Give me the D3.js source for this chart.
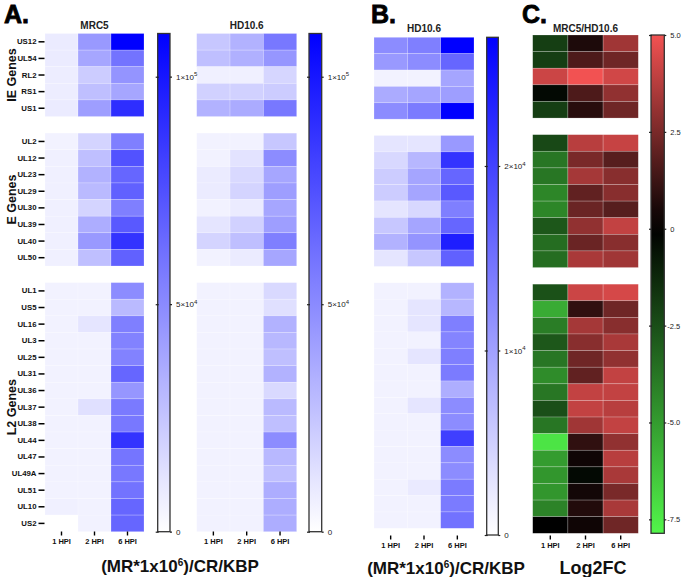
<!DOCTYPE html>
<html>
<head>
<meta charset="utf-8">
<script src="https://cdn.jsdelivr.net/npm/d3@7"></script>
<style>
  body { margin: 0; background: #fff; }
  svg { font-family: "Liberation Sans", Arial, sans-serif; }
  .bold { font-weight: bold; }
</style>
</head>
<body>
<svg id="fig" width="684" height="577"></svg>
<script>
// genes per group
const ieGenes = ["US12", "UL54", "RL2", "RS1", "US1"];
const eGenes = ["UL2", "UL12", "UL23", "UL29", "UL30", "UL39", "UL40", "UL50"];
const l2Genes = ["UL1", "US5", "UL16", "UL3", "UL25", "UL31", "UL36", "UL37", "UL38", "UL44", "UL47", "UL49A", "UL51", "UL10", "US2"];
const hpi = ["1 HPI", "2 HPI", "6 HPI"];

// A. MRC5, (MR*1e6)/CR/KBP, columns 1/2/6 HPI
const mrc5Values = [
  [8800, 43800, 109500], [8800, 38300, 60200], [7700, 21900, 46000], [7700, 27400, 38300], [8800, 41600, 89800],
  [5500, 18600, 54800], [6600, 27400, 74500], [6600, 32900, 65700], [6600, 29600, 67900], [6600, 18600, 54800],
  [6600, 35000, 71200], [6600, 43800, 87600], [6600, 27400, 67900],
  [5500, 5500, 49300], [5500, 5500, 29600], [5500, 11000, 54800], [5500, 5500, 53700], [5500, 5500, 53700],
  [5500, 5500, 65700], [5500, 5500, 45000], [5500, 13100, 56900], [5500, 5500, 57900], [5500, 5500, 87600],
  [5500, 5500, 59100], [5500, 5500, 57900], [5500, 5500, 60200], [6600, 5500, 65700], [0, 5500, 65700]
];
// A. HD10.6
const hd106ValuesA = [
  [24100, 32900, 58000], [27400, 33900, 44900], [6600, 6600, 17500], [19700, 19700, 21900], [32900, 36100, 58000],
  [5500, 5500, 24100], [5500, 12000, 49300], [8800, 16400, 38300], [8800, 18600, 41600], [5500, 8800, 38300],
  [11000, 19700, 41600], [18600, 27400, 54800], [5500, 8800, 38300],
  [5500, 5500, 16400], [5500, 5500, 13100], [5500, 5500, 32900], [5500, 5500, 30700], [5500, 5500, 27400],
  [5500, 5500, 32900], [5500, 5500, 16400], [5500, 5500, 29600], [5500, 5500, 27400], [5500, 5500, 49300],
  [5500, 5500, 30700], [5500, 5500, 27400], [5500, 5500, 35000], [5500, 5500, 35000], [5500, 5500, 35000]
];
// B. HD10.6 on its own scale
const hd106ValuesB = [
  [12200, 13500, 27000], [10800, 12200, 16200], [1400, 1400, 9500], [8900, 9500, 10300], [12200, 14000, 27000],
  [2700, 2700, 10800], [4100, 7600, 21600], [5400, 9500, 16200], [5400, 9500, 17600], [2700, 4100, 13500],
  [5900, 9500, 16200], [8100, 11300, 23800], [2700, 5900, 16700],
  [1400, 1400, 8100], [1400, 2700, 7600], [1400, 2700, 13500], [1400, 1400, 13000], [1400, 2700, 13500],
  [1400, 1400, 14000], [1400, 1400, 8600], [1400, 2700, 12200], [1400, 1400, 12200], [1400, 1400, 20300],
  [1400, 1400, 12200], [1400, 1400, 12200], [1400, 2200, 14000], [1400, 1400, 14000], [1400, 1400, 14900]
];
// C. Log2FC MRC5/HD10.6
const log2fcValues = [
  [-2.0, 0.6, 3.3], [-2.0, 1.6, 2.3], [4.2, 5.0, 4.3], [-0.3, 1.6, 3.0], [-2.0, 0.8, 2.3],
  [-2.3, 3.8, 4.1], [-3.8, 2.5, 1.8], [-3.8, 3.4, 2.8], [-4.3, 2.0, 2.8], [-4.3, 2.2, 1.8],
  [-2.8, 3.0, 4.0], [-3.5, 2.2, 2.8], [-3.5, 3.5, 3.3],
  [-2.6, 4.2, 4.4], [-5.5, 1.0, 2.3], [-4.0, 3.4, 2.8], [-2.8, 2.8, 3.5], [-3.8, 2.3, 3.0],
  [-4.5, 2.0, 4.0], [-3.8, 4.0, 4.0], [-2.5, 4.0, 3.8], [-3.8, 3.3, 4.0], [-7.3, 1.0, 3.0],
  [-5.0, 0.3, 3.8], [-4.8, -0.3, 3.5], [-4.8, 0.4, 2.5], [-4.2, 0.7, 3.5], [0.0, 0.3, 2.3]
];

const abMaxA = 109500, abMaxB = 26975;
const fcDomain = [-7.86, 0, 5];
const ticksA = [0, 50000, 100000];
const ticksB = [0, 10000, 20000];
const ticksC = [-7.5, -5, -2.5, 0, 2.5, 5];

const genes = ieGenes.concat(eGenes, l2Genes);
const rowKeys = [...ieGenes, "_gap1", ...eGenes, "_gap2", ...l2Genes];

const svg = d3.select("#fig");
svg.append("rect").attr("width", 684).attr("height", 577).attr("fill", "#fff");

const blueA = d3.scaleLinear().domain([0, abMaxA]).range(["#ffffff", "#0000ff"]);
const blueB = d3.scaleLinear().domain([0, abMaxB]).range(["#ffffff", "#0000ff"]);
const fcColor = d3.scaleLinear().domain(fcDomain).range(["#52f54a", "#000000", "#f25252"]);

function heatmap(values, color, x0, x1, y0, y1, axisY, title, titleY) {
  const x = d3.scaleBand().domain(hpi).range([x0, x1]);
  const y = d3.scaleBand().domain(rowKeys).range([y0, y1]);
  const g = svg.append("g");
  genes.forEach((gene, i) => {
    g.selectAll(null)
      .data(values[i])
      .enter()
      .append("rect")
      .attr("x", (d, j) => x(hpi[j]))
      .attr("y", y(gene))
      .attr("width", x.bandwidth())
      .attr("height", y.bandwidth())
      .attr("fill", d => color(d))
      .attr("stroke", "rgba(255,255,255,0.35)")
      .attr("stroke-width", 0.6);
  });
  const ax = svg.append("g")
    .attr("transform", `translate(0,${axisY})`)
    .call(d3.axisBottom(x).tickSize(4).tickPadding(3));
  ax.select(".domain").remove();
  ax.selectAll("line").attr("stroke", "#000").attr("stroke-width", 1.4);
  ax.selectAll("text").attr("class", "bold").attr("font-size", 7.5)
    .attr("font-family", "Liberation Sans, Arial, sans-serif").attr("fill", "#111");
  svg.append("text").attr("class", "bold")
    .attr("x", (x0 + x1) / 2).attr("y", titleY)
    .attr("text-anchor", "middle").attr("font-size", 10).attr("fill", "#222")
    .text(title);
  return y;
}

function colorbar(scaleColor, domain, x, w, y0, y1, tickVals, fmt, id, pad) {
  const sc = d3.scaleLinear().domain([domain[0], domain[domain.length - 1]]).range([y1, y0]);
  const grad = svg.append("defs").append("linearGradient")
    .attr("id", id).attr("x1", 0).attr("y1", 1).attr("x2", 0).attr("y2", 0);
  d3.range(0, 1.0001, 0.05).forEach(t => {
    const v = sc.domain()[0] + t * (sc.domain()[1] - sc.domain()[0]);
    grad.append("stop").attr("offset", t).attr("stop-color", scaleColor(v));
  });
  svg.append("rect").attr("x", x).attr("y", y0).attr("width", w).attr("height", y1 - y0)
    .attr("fill", `url(#${id})`).attr("stroke", "#333").attr("stroke-width", 1.3);
  const ax = svg.append("g").attr("transform", `translate(${x + w},0)`)
    .call(d3.axisRight(sc).tickValues(tickVals).tickSize(2).tickPadding(pad).tickFormat(() => ""));
  ax.select(".domain").remove();
  ax.selectAll("line").attr("stroke", "#222").attr("stroke-width", 1.2);
  ax.selectAll(".tick").each(function (d) {
    const t = d3.select(this);
    t.append("line").attr("x1", -w - 2).attr("x2", -w + 1).attr("stroke", "#222").attr("stroke-width", 1.2);
    fmt(t.select("text").attr("font-size", 8).attr("fill", "#222")
      .attr("font-family", "Liberation Sans, Arial, sans-serif"), d);
  });
}

function sciFmt(text, d) {
  if (d === 0) { text.text("0"); return; }
  const e = Math.floor(Math.log10(d));
  const m = d / Math.pow(10, e);
  text.text(null);
  text.append("tspan").text(`${m}×10`);
  text.append("tspan").attr("dy", -3.5).attr("font-size", 6).text(e);
}
function decFmt(text, d) {
  text.attr("font-size", 7.5).attr("dx", d < 0 ? 0 : 3)
    .text(d === 0 ? "0" : d3.format(".1f")(d).replace("−", "-"));
}

// Panel A
const yA = heatmap(mrc5Values, blueA, 45, 144, 33.5, 531.7, 531.5, "MRC5", 29);
heatmap(hd106ValuesA, blueA, 196.7, 296.7, 33.5, 531.7, 531.5, "HD10.6", 29);
colorbar(blueA, [0, abMaxA], 157.7, 12.3, 33.5, 531.7, ticksA, sciFmt, "gA1", 4);
colorbar(blueA, [0, abMaxA], 309, 12.7, 33.5, 531.7, ticksA, sciFmt, "gA2", 4);

// gene labels on the left
const left = svg.append("g").attr("transform", "translate(44.5,0)")
  .call(d3.axisLeft(yA).tickValues(genes).tickSize(6).tickPadding(2));
left.select(".domain").remove();
left.selectAll("line").attr("stroke", "#000").attr("stroke-width", 1.5);
left.selectAll("text").attr("class", "bold").attr("font-size", 7.8).attr("fill", "#111")
  .attr("font-family", "Liberation Sans, Arial, sans-serif");

const groupLabels = [["IE Genes", ieGenes], ["E Genes", eGenes], ["L2 Genes", l2Genes]];
groupLabels.forEach(([lab, list]) => {
  const cy = (yA(list[0]) + yA(list[list.length - 1]) + yA.bandwidth()) / 2;
  svg.append("text").attr("class", "bold")
    .attr("transform", `translate(15.5,${cy}) rotate(-90)`)
    .attr("text-anchor", "middle").attr("font-size", 12.5).attr("fill", "#111")
    .text(lab);
});

// Panel B
heatmap(hd106ValuesB, blueB, 374, 474, 37.3, 528.3, 535.5, "HD10.6", 32);
colorbar(blueB, [0, abMaxB], 486.7, 11.6, 37.3, 535, ticksB, sciFmt, "gB", 4);

// Panel C
heatmap(log2fcValues, fcColor, 532.7, 638.3, 35, 533.3, 535.5, "MRC5/HD10.6", 31.5);
colorbar(fcColor, [fcDomain[0], fcDomain[2]], 651, 13.3, 35, 533.3, ticksC, decFmt, "gC", 1);

// panel letters
[["A.", 4, 23], ["B.", 371, 23], ["C.", 522, 23]].forEach(([t, x, y]) => {
  svg.append("text").attr("class", "bold").attr("x", x).attr("y", y)
    .attr("font-size", 25).attr("fill", "#000").attr("stroke", "#000").attr("stroke-width", 0.8)
    .text(t);
});

// x titles
function sup6(x, y) {
  const t = svg.append("text").attr("class", "bold").attr("x", x).attr("y", y)
    .attr("text-anchor", "middle").attr("font-size", 17).attr("fill", "#111");
  t.append("tspan").text("(MR*1x10");
  t.append("tspan").attr("dy", -6).attr("font-size", 10).text("6");
  t.append("tspan").attr("dy", 6).text(")/CR/KBP");
}
sup6(180, 572);
sup6(446, 574);
svg.append("text").attr("class", "bold").attr("x", 593).attr("y", 574)
  .attr("text-anchor", "middle").attr("font-size", 18).attr("fill", "#111").text("Log2FC");
</script>
</body>
</html>
